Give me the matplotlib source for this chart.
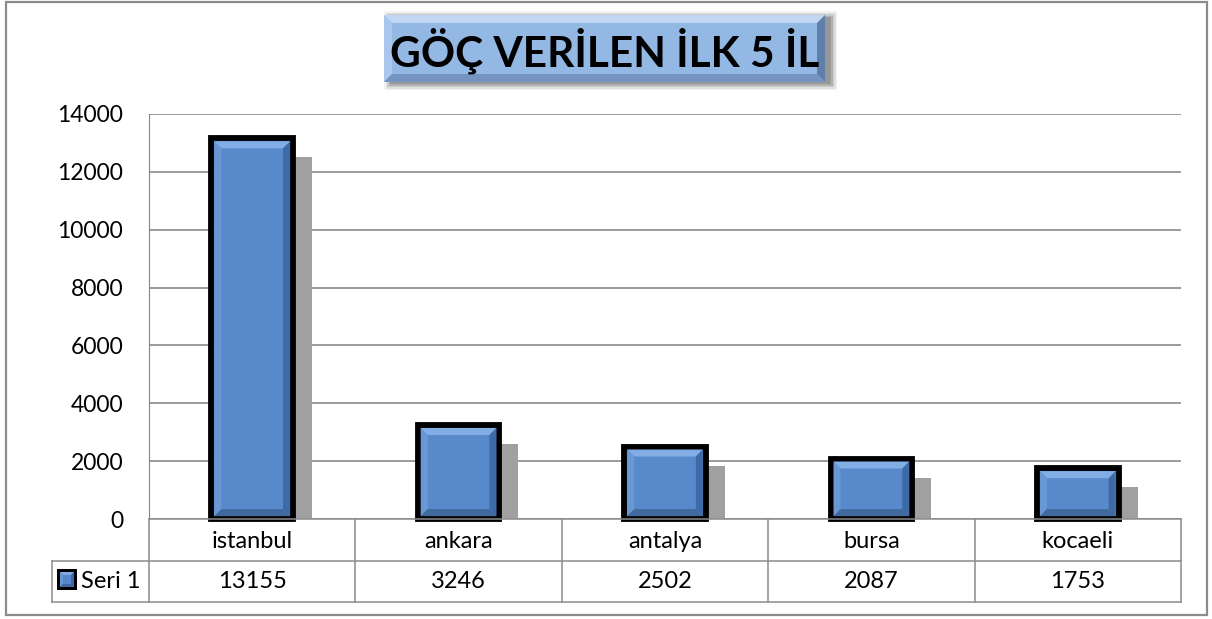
import matplotlib
matplotlib.use("Agg")
import matplotlib.pyplot as plt
from matplotlib.patches import Rectangle, Polygon
from matplotlib.lines import Line2D
from matplotlib.transforms import offset_copy, IdentityTransform, blended_transform_factory

# data
cities = ["istanbul", "ankara", "antalya", "bursa", "kocaeli"]
values = [13155, 3246, 2502, 2087, 1753]
series_name = "Seri 1"
title = "GÖÇ VERİLEN İLK 5 İL"
yticks = [0, 2000, 4000, 6000, 8000, 10000, 12000, 14000]

plt.rcParams["font.family"] = ["Lato", "DejaVu Sans"]

W, H = 1212, 619
fig = plt.figure(figsize=(W / 100, H / 100), dpi=100)
ident = IdentityTransform()


def fx(px):
    return px / W


def fy(py):
    return 1 - py / H


def disp(x, y):
    # pixel position measured from top-left -> display coords
    return (x, H - y)


def bevel_box(x0, y0, x1, y1, b, face, top, left, right, bottom, z):
    # x0,y0,x1,y1 in display coords (y up)
    fig.add_artist(Rectangle((x0, y0), x1 - x0, y1 - y0, transform=ident,
                             facecolor=face, edgecolor="none", zorder=z))
    quads = [
        ([(x0, y1), (x1, y1), (x1 - b, y1 - b), (x0 + b, y1 - b)], top),
        ([(x0, y0), (x0 + b, y0 + b), (x0 + b, y1 - b), (x0, y1)], left),
        ([(x1, y0), (x1, y1), (x1 - b, y1 - b), (x1 - b, y0 + b)], right),
        ([(x0, y0), (x1, y0), (x1 - b, y0 + b), (x0 + b, y0 + b)], bottom),
    ]
    for pts, c in quads:
        fig.add_artist(Polygon(pts, closed=True, transform=ident,
                               facecolor=c, edgecolor="none", zorder=z + 0.1))


# outer chart border
fig.add_artist(Rectangle((fx(6), fy(615)), fx(1207) - fx(6), fy(2) - fy(615),
                         transform=fig.transFigure, fill=False,
                         edgecolor="#8c8c8c", lw=1.6))

ax = fig.add_axes([fx(149), fy(519), fx(1181) - fx(149), fy(114) - fy(519)])
ax.set_xlim(-0.5, len(cities) - 0.5)
ax.set_ylim(0, 14000)
ax.set_facecolor("none")
for s in ["top", "right", "bottom"]:
    ax.spines[s].set_visible(False)
ax.spines["left"].set_color("#868686")
ax.set_yticks(yticks)
ax.set_yticklabels([str(t) for t in yticks], fontsize=16.5)
ax.tick_params(axis="y", length=0, pad=18.5)
ax.set_xticks([])
ax.grid(axis="y", color="#808080", lw=1.1)
ax.set_axisbelow(True)

x = list(range(len(cities)))

# shadows
shadow_tr = offset_copy(ax.transData, fig=fig, x=17, y=-19, units="dots")
ax.bar(x, values, width=0.415, color="#a0a0a0", transform=shadow_tr, zorder=2)

bars = ax.bar(x, values, width=0.395, color="#5787c8", edgecolor="black",
              lw=4.2, zorder=3, clip_on=False)

fig.canvas.draw()
for b in bars:
    ext = b.get_window_extent()
    e = 2.9
    bevel_box(ext.x0 + e, ext.y0 + e, ext.x1 - e, ext.y1 - e, 7,
              "#5889ca", "#82ade5", "#6a98d4", "#3f6aa8", "#42699e", 4)

# table
grid_c = "#8c8c8c"
tab_x = blended_transform_factory(ax.transAxes, fig.transFigure)
for i in range(len(cities) + 1):
    fig.add_artist(Line2D([i / len(cities)] * 2, [fy(519), fy(602)],
                          transform=tab_x, color=grid_c, lw=1.1))
fig.add_artist(Line2D([fx(149), fx(1181)], [fy(519), fy(519)],
                      transform=fig.transFigure, color=grid_c, lw=1.1))
for yy in [561, 602]:
    fig.add_artist(Line2D([fx(52), fx(1181)], [fy(yy), fy(yy)],
                          transform=fig.transFigure, color=grid_c, lw=1.1))
fig.add_artist(Line2D([fx(52), fx(52)], [fy(561), fy(602)],
                      transform=fig.transFigure, color=grid_c, lw=1.1))

cell_tr = blended_transform_factory(ax.transData, fig.transFigure)
for i, (c, v) in enumerate(zip(cities, values)):
    ax.text(i, fy(541), c, transform=cell_tr, ha="center", va="center",
            fontsize=17, clip_on=False)
    ax.text(i, fy(582), str(v), transform=cell_tr, ha="center", va="center",
            fontsize=17, clip_on=False)

# legend key
kx0, ky0 = disp(57, 590)
fig.add_artist(Rectangle((kx0, ky0), 20, 21, transform=ident,
                         facecolor="black", edgecolor="none", zorder=5))
bevel_box(kx0 + 3, ky0 + 3, kx0 + 17, ky0 + 18, 3,
          "#5787c8", "#80abe3", "#6a98d4", "#3d69a8", "#41699f", 6)
fig.text(fx(81), fy(582), series_name, ha="left", va="center", fontsize=17)

# title box with shadow
tx0, ty0 = disp(384, 82)
tx1, ty1 = disp(825, 15)
for k, a in enumerate([0.05, 0.07, 0.09, 0.12, 0.15]):
    d = 9 - k * 1.5
    fig.add_artist(Rectangle((tx0 + 3 - d + 6, ty0 - 5 - d + 6),
                             (tx1 - tx0) + 2 * d - 6, (ty1 - ty0) + 2 * d - 6,
                             transform=ident, facecolor="black", alpha=a,
                             edgecolor="none", zorder=6))
bevel_box(tx0, ty0, tx1, ty1, 8, "#94b8e4", "#c2d7f1", "#aac6ec",
          "#5f7fab", "#7594c0", 7)
fig.text((tx0 + tx1) / 2 / W, (ty0 + ty1) / 2 / H - 0.004, title,
         ha="center", va="center", fontsize=30.5, fontweight="bold", zorder=9)

fig.savefig("out.png", dpi=100)
